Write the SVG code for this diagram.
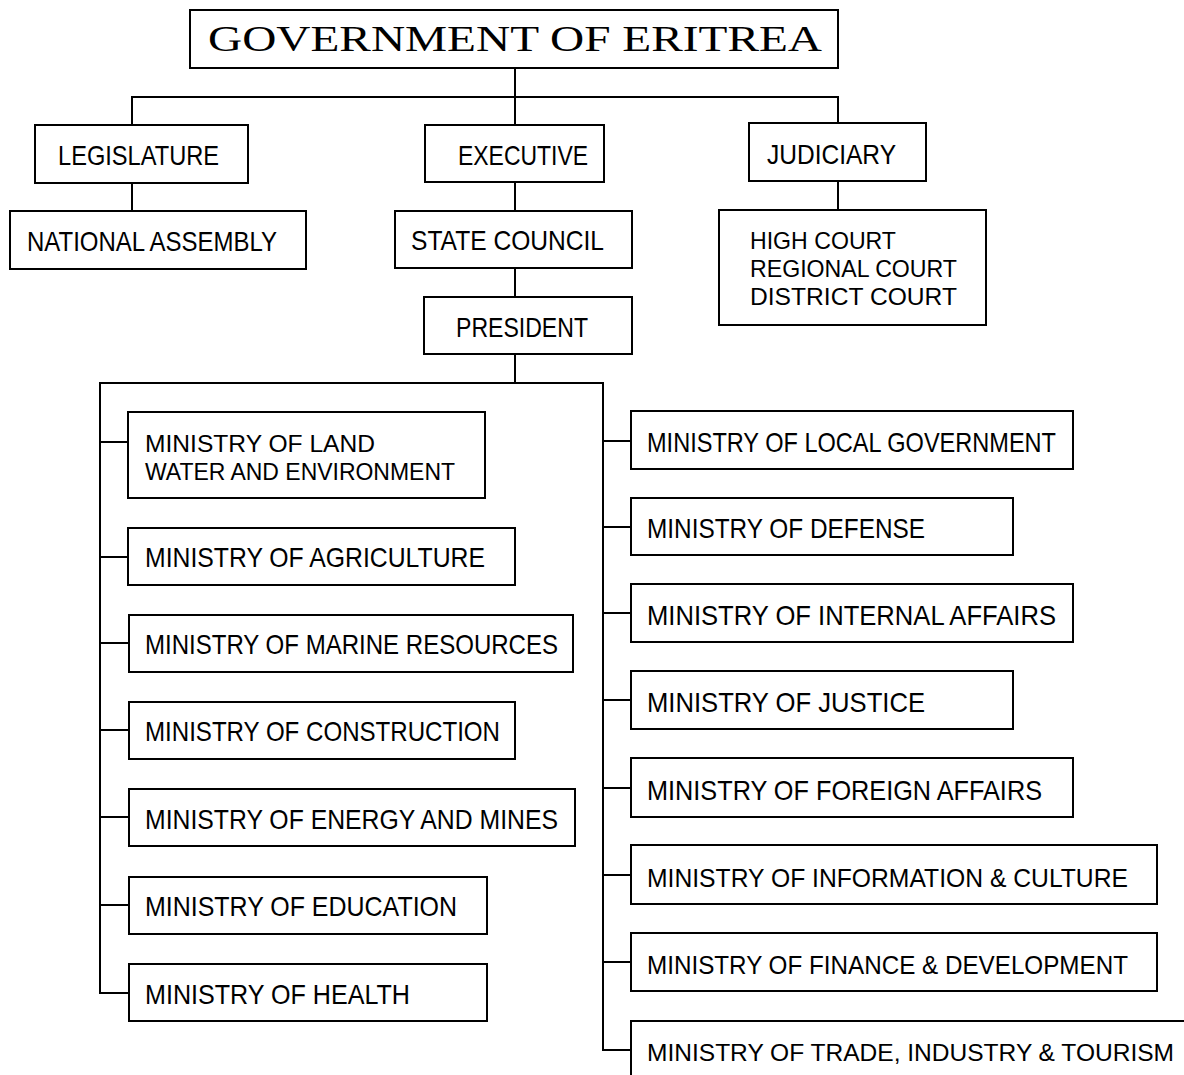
<svg xmlns="http://www.w3.org/2000/svg" width="1184" height="1075" viewBox="0 0 1184 1075">
<style>
rect{fill:#fff;stroke:#000;stroke-width:2}
.c line,.c path{stroke:#000;stroke-width:2;fill:none}
text{font-family:"Liberation Sans",Arial,sans-serif;font-size:28px;fill:#000}
.t{font-family:"Liberation Serif","Times New Roman",serif;font-size:36px}
.m{font-size:24px}
.w{font-size:26px}
</style>
<rect x="0" y="0" width="1184" height="1075" style="stroke:none"/>
<g class="c" id="connectors">
<line x1="515" y1="68" x2="515" y2="97"/>
<path d="M132 125V97H838V124"/>
<line x1="515" y1="97" x2="515" y2="125"/>
<line x1="132" y1="183" x2="132" y2="211"/>
<line x1="515" y1="182" x2="515" y2="211"/>
<line x1="515" y1="268" x2="515" y2="297"/>
<line x1="838" y1="181" x2="838" y2="210"/>
<line x1="515" y1="354" x2="515" y2="383"/>
<path d="M128 993H100V383H603V1050H631"/>
<line x1="100" y1="442" x2="128" y2="442"/>
<line x1="100" y1="557" x2="128" y2="557"/>
<line x1="100" y1="643" x2="129" y2="643"/>
<line x1="100" y1="730" x2="129" y2="730"/>
<line x1="100" y1="817" x2="129" y2="817"/>
<line x1="100" y1="905" x2="129" y2="905"/>
<line x1="603" y1="441" x2="631" y2="441"/>
<line x1="603" y1="527" x2="631" y2="527"/>
<line x1="603" y1="613" x2="631" y2="613"/>
<line x1="603" y1="700" x2="631" y2="700"/>
<line x1="603" y1="788" x2="631" y2="788"/>
<line x1="603" y1="875" x2="631" y2="875"/>
<line x1="603" y1="962" x2="631" y2="962"/>
</g>
<g id="gov"><rect x="190" y="10" width="648" height="58"/><text class="t" x="208" y="51" textLength="614" lengthAdjust="spacingAndGlyphs">GOVERNMENT  OF  ERITREA</text></g>
<g id="legislature"><rect x="35" y="125" width="213" height="58"/><text x="58" y="165" textLength="161" lengthAdjust="spacingAndGlyphs">LEGISLATURE</text></g>
<g id="executive"><rect x="425" y="125" width="179" height="57"/><text x="458" y="165" textLength="130" lengthAdjust="spacingAndGlyphs">EXECUTIVE</text></g>
<g id="judiciary"><rect x="749" y="123" width="177" height="58"/><text x="767" y="164" textLength="129" lengthAdjust="spacingAndGlyphs">JUDICIARY</text></g>
<g id="national-assembly"><rect x="10" y="211" width="296" height="58"/><text x="27" y="251" textLength="250" lengthAdjust="spacingAndGlyphs">NATIONAL ASSEMBLY</text></g>
<g id="state-council"><rect x="395" y="211" width="237" height="57"/><text x="411" y="250" textLength="193" lengthAdjust="spacingAndGlyphs">STATE COUNCIL</text></g>
<g id="president"><rect x="424" y="297" width="208" height="57"/><text x="456" y="337" textLength="132" lengthAdjust="spacingAndGlyphs">PRESIDENT</text></g>
<g id="courts"><rect x="719" y="210" width="267" height="115"/>
<text class="m" x="750" y="249" textLength="146" lengthAdjust="spacingAndGlyphs">HIGH COURT</text>
<text class="m" x="750" y="277" textLength="207" lengthAdjust="spacingAndGlyphs">REGIONAL COURT</text>
<text class="m" x="750" y="305" textLength="207" lengthAdjust="spacingAndGlyphs">DISTRICT COURT</text></g>
<g id="m-land"><rect x="128" y="412" width="357" height="86"/>
<text class="m" x="145" y="452" textLength="230" lengthAdjust="spacingAndGlyphs">MINISTRY OF LAND</text>
<text class="m" x="145" y="480" textLength="310" lengthAdjust="spacingAndGlyphs">WATER AND ENVIRONMENT</text></g>
<g id="m-agriculture"><rect x="128" y="528" width="387" height="57"/><text x="145" y="567" textLength="340" lengthAdjust="spacingAndGlyphs">MINISTRY OF AGRICULTURE</text></g>
<g id="m-marine"><rect x="129" y="615" width="444" height="57"/><text x="145" y="654" textLength="413" lengthAdjust="spacingAndGlyphs">MINISTRY OF MARINE RESOURCES</text></g>
<g id="m-construction"><rect x="129" y="702" width="386" height="57"/><text x="145" y="741" textLength="355" lengthAdjust="spacingAndGlyphs">MINISTRY OF CONSTRUCTION</text></g>
<g id="m-energy"><rect x="129" y="789" width="446" height="57"/><text x="145" y="829" textLength="413" lengthAdjust="spacingAndGlyphs">MINISTRY OF ENERGY AND MINES</text></g>
<g id="m-education"><rect x="129" y="877" width="358" height="57"/><text x="145" y="916" textLength="312" lengthAdjust="spacingAndGlyphs">MINISTRY OF EDUCATION</text></g>
<g id="m-health"><rect x="129" y="964" width="358" height="57"/><text x="145" y="1004" textLength="265" lengthAdjust="spacingAndGlyphs">MINISTRY OF HEALTH</text></g>
<g id="m-local"><rect x="631" y="411" width="442" height="58"/><text x="647" y="452" textLength="409" lengthAdjust="spacingAndGlyphs">MINISTRY OF LOCAL GOVERNMENT</text></g>
<g id="m-defense"><rect x="631" y="498" width="382" height="57"/><text x="647" y="538" textLength="278" lengthAdjust="spacingAndGlyphs">MINISTRY OF DEFENSE</text></g>
<g id="m-internal"><rect x="631" y="584" width="442" height="58"/><text x="647" y="625" textLength="409" lengthAdjust="spacingAndGlyphs">MINISTRY OF INTERNAL AFFAIRS</text></g>
<g id="m-justice"><rect x="631" y="671" width="382" height="58"/><text x="647" y="712" textLength="278" lengthAdjust="spacingAndGlyphs">MINISTRY OF JUSTICE</text></g>
<g id="m-foreign"><rect x="631" y="758" width="442" height="59"/><text x="647" y="800" textLength="395" lengthAdjust="spacingAndGlyphs">MINISTRY OF FOREIGN AFFAIRS</text></g>
<g id="m-information"><rect x="631" y="845" width="526" height="59"/><text class="w" x="647" y="887" textLength="481" lengthAdjust="spacingAndGlyphs">MINISTRY OF INFORMATION &amp; CULTURE</text></g>
<g id="m-finance"><rect x="631" y="933" width="526" height="58"/><text class="w" x="647" y="974" textLength="481" lengthAdjust="spacingAndGlyphs">MINISTRY OF FINANCE &amp; DEVELOPMENT</text></g>
<g id="m-trade"><rect x="631" y="1021" width="570" height="70"/><text class="m" x="647" y="1061" textLength="527" lengthAdjust="spacingAndGlyphs">MINISTRY OF TRADE, INDUSTRY &amp; TOURISM</text></g>
</svg>
